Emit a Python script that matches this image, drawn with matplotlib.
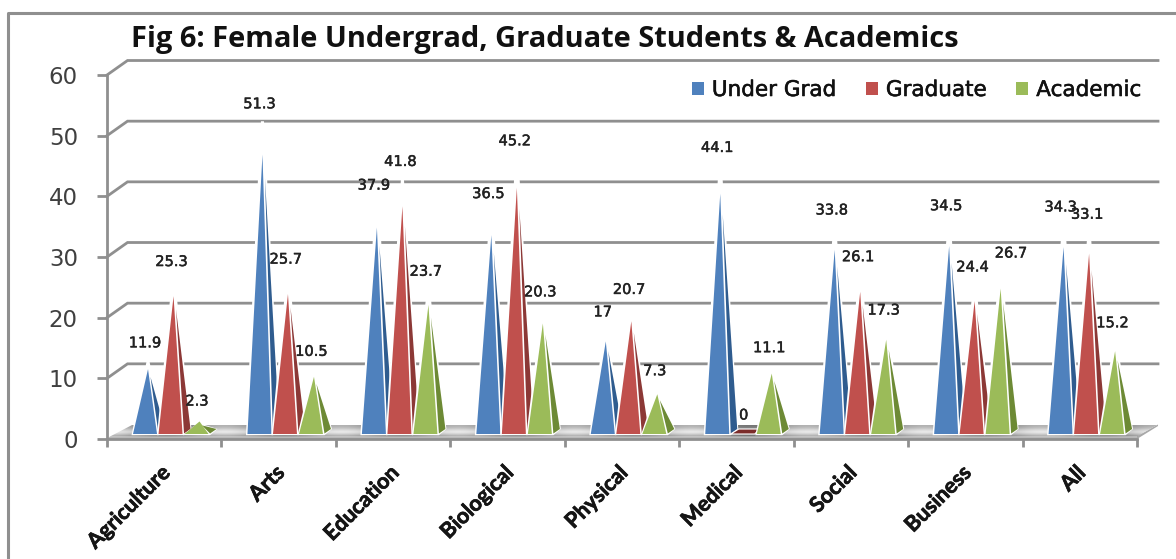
import numpy as np
import matplotlib
matplotlib.use('Agg')
import matplotlib.pyplot as plt
import matplotlib.patheffects as pe
from matplotlib.lines import Line2D
from matplotlib.patches import Patch, Polygon

# Datos
categories = ['Agriculture', 'Arts', 'Education', 'Biological', 'Physical',
              'Medical', 'Social', 'Business', 'All']
under_grad = [11.9, 51.3, 37.9, 36.5, 17, 44.1, 33.8, 34.5, 34.3]
graduate = [25.3, 25.7, 41.8, 45.2, 20.7, 0, 26.1, 24.4, 33.1]
academic = [2.3, 10.5, 23.7, 20.3, 7.3, 11.1, 17.3, 26.7, 15.2]
series_names = ['Under Grad', 'Graduate', 'Academic']
y_ticks = [0, 10, 20, 30, 40, 50, 60]

W, H = 1176, 559
GREY = '#8f8f8f'
front_colors = ['#4f81bd', '#c0504d', '#9bbb59']
side_colors = ['#2f5c8f', '#8c3836', '#6d8a35']

# escala: pixeles de la imagen a unidades de datos
XPX = 1 / 114.4
YPX = 1 / 6.07
WALL_DX, WALL_DY = 20.5 * XPX, 14.5 * YPX
BASE_Y = 5 * YPX
HALF_W = 12 * XPX
APEX_SHIFT = 3 * XPX
CENTERS = [38 * XPX, 63.5 * XPX, 89.5 * XPX]
LABEL_X = [38 * XPX, 64.5 * XPX, 90 * XPX]

fig = plt.figure(figsize=(W / 100, H / 100), dpi=100)
ax = fig.add_axes([107 / W, (H - 439) / H, 1030 / W, 364 / H])
ax.patch.set_alpha(0)

# Marco exterior (solo arriba e izquierda)
fig.add_artist(Line2D([8 / W, 8 / W, 1], [0, 1 - 13 / H, 1 - 13 / H], color=GREY, lw=2.2))

# Paredes
grid_end = 9 + 21 * XPX
for v in y_ticks[1:]:
    ax.plot([0, WALL_DX, grid_end], [v, v + WALL_DY, v + WALL_DY], color=GREY, lw=2,
            clip_on=False, zorder=1, solid_joinstyle='miter')

# Suelo con degradado
floor_pts = [(3 * XPX, 2.5 * YPX), (26 * XPX, 14.5 * YPX), (grid_end, 14.5 * YPX), (9, 2.5 * YPX)]
ax.add_patch(Polygon([(0, 0), (3 * XPX, 2.5 * YPX), (9, 2.5 * YPX), (9, 0)], closed=True,
                     facecolor='#b8b8b8', edgecolor='none', clip_on=False, zorder=2))
ax.add_patch(Polygon([(9, 0), (9, 3 * YPX), (grid_end, 14.5 * YPX), (grid_end, 13 * YPX)], closed=True,
                     facecolor='#a8a8a8', edgecolor='none', clip_on=False, zorder=2))
grad = np.array([0.58, 0.64, 0.74, 0.80, 0.70, 0.56]).reshape(-1, 1)
xs = np.linspace(0, 1, 460)
shade = 0.12 * np.cos(xs * 2 * np.pi * 9)
img = grad + shade
floor_img = ax.imshow(img, cmap='gray', vmin=0, vmax=1, aspect='auto', interpolation='bilinear',
                      extent=[0, grid_end, 2.5 * YPX, 14.5 * YPX], zorder=2)
floor_clip = Polygon(floor_pts, closed=True, transform=ax.transData, facecolor='none', edgecolor='none')
ax.add_patch(floor_clip)
floor_img.set_clip_path(floor_clip)
floor_img.set_clip_box(fig.bbox)
ax.set_xlim(0, 9)
ax.set_ylim(0, 60)


def draw_pyramid(xc, v, i, order):
    left, right = xc - HALF_W, xc + HALF_W
    ax_x = xc + APEX_SHIFT
    top = BASE_Y + v * 5.45 * YPX
    halo = BASE_Y + v * 6.1 * YPX
    back_x, back_y = right + 8 * XPX, BASE_Y + 5 * YPX
    if v == 0:
        ax.add_patch(Polygon([(left, BASE_Y), (right, BASE_Y), (back_x - 3 * XPX, back_y), (left + 8 * XPX, back_y)],
                             closed=True, facecolor='#7b2c2a', edgecolor='white', lw=0.8,
                             clip_on=False, zorder=order))
        return
    # halo blanco que corta la rejilla
    ax.add_patch(Polygon([(left - 1.5 * XPX, BASE_Y - 1.2 * YPX), (ax_x - 3.5 * XPX, top - 3 * YPX), (ax_x - 1.5 * XPX, halo),
                          (ax_x + 1.5 * XPX, halo), (ax_x + 3.5 * XPX, top - 3 * YPX), (back_x + 1 * XPX, back_y),
                          (right + 1.5 * XPX, BASE_Y - 1.2 * YPX)],
                         closed=True, facecolor='white', edgecolor='none', clip_on=False, zorder=order))
    # cara lateral
    ax.add_patch(Polygon([(ax_x + 2.5 * XPX, top - v * 0.4 * YPX - 3 * YPX), (right + 1.5 * XPX, BASE_Y + 0.5 * YPX),
                          (back_x, back_y)],
                         closed=True, facecolor=side_colors[i], edgecolor='none', clip_on=False, zorder=order + 0.1))
    # cara frontal
    ax.add_patch(Polygon([(left, BASE_Y), (ax_x, top), (right, BASE_Y)], closed=True,
                         facecolor=front_colors[i], edgecolor='none', clip_on=False, zorder=order + 0.2))


stroke = [pe.withStroke(linewidth=0.35, foreground='#222222')]
for i, values in enumerate([under_grad, graduate, academic]):
    for k, v in enumerate(values):
        draw_pyramid(k + CENTERS[i], v, i, 3 + k + i * 0.3)
        nudge = 13 * XPX if v == 26.7 else 0
        ax.text(k + LABEL_X[i] + nudge, v + BASE_Y + 19 * YPX, str(v), ha='center', va='center',
                fontsize=10.5, color='#222222', zorder=20, clip_on=False, path_effects=stroke)

# Ejes
for side in ['top', 'right']:
    ax.spines[side].set_visible(False)
for side in ['left', 'bottom']:
    ax.spines[side].set_color(GREY)
    ax.spines[side].set_linewidth(2)
    ax.spines[side].set_zorder(2.5)
ax.set_yticks(y_ticks)
ax.tick_params(axis='y', length=7, width=2, color=GREY, pad=14, labelsize=16.5, labelcolor='#404040')
ax.set_xticks(np.arange(10))
ax.set_xticklabels([])
ax.set_xticks(np.arange(9) + 0.5 - 5 * XPX, minor=True)
ax.set_xticklabels(categories, minor=True, rotation=45, ha='right', rotation_mode='anchor',
                   fontfamily='Lato', fontweight='bold', fontsize=15.5, color='#151515',
                   path_effects=[pe.withStroke(linewidth=0.5, foreground='#151515')])
ax.tick_params(axis='x', which='major', length=6, width=2, color=GREY)
ax.tick_params(axis='x', which='minor', length=0, pad=16.5)

# Leyenda
handles = [Patch(facecolor=c, edgecolor='none', label=n) for c, n in zip(front_colors, series_names)]
leg = ax.legend(handles=handles, ncol=3, frameon=False, loc='center right', bbox_to_anchor=(1034 / 1030, (439 - 90) / 364),
                fontsize=15.5, handlelength=0.56, handleheight=0.56, handletextpad=0.37, columnspacing=1.37,
                borderpad=0, borderaxespad=0)
for t in leg.get_texts():
    t.set_color('#111111')
    t.set_path_effects([pe.withStroke(linewidth=0.4, foreground='#111111')])

fig.text(131 / W, 1 - 39 / H, 'Fig 6: Female Undergrad, Graduate Students & Academics', ha='left', va='center',
         fontfamily='Open Sans', fontweight='bold', fontsize=20.9, color='#111111')

fig.savefig('out.png', dpi=100)
